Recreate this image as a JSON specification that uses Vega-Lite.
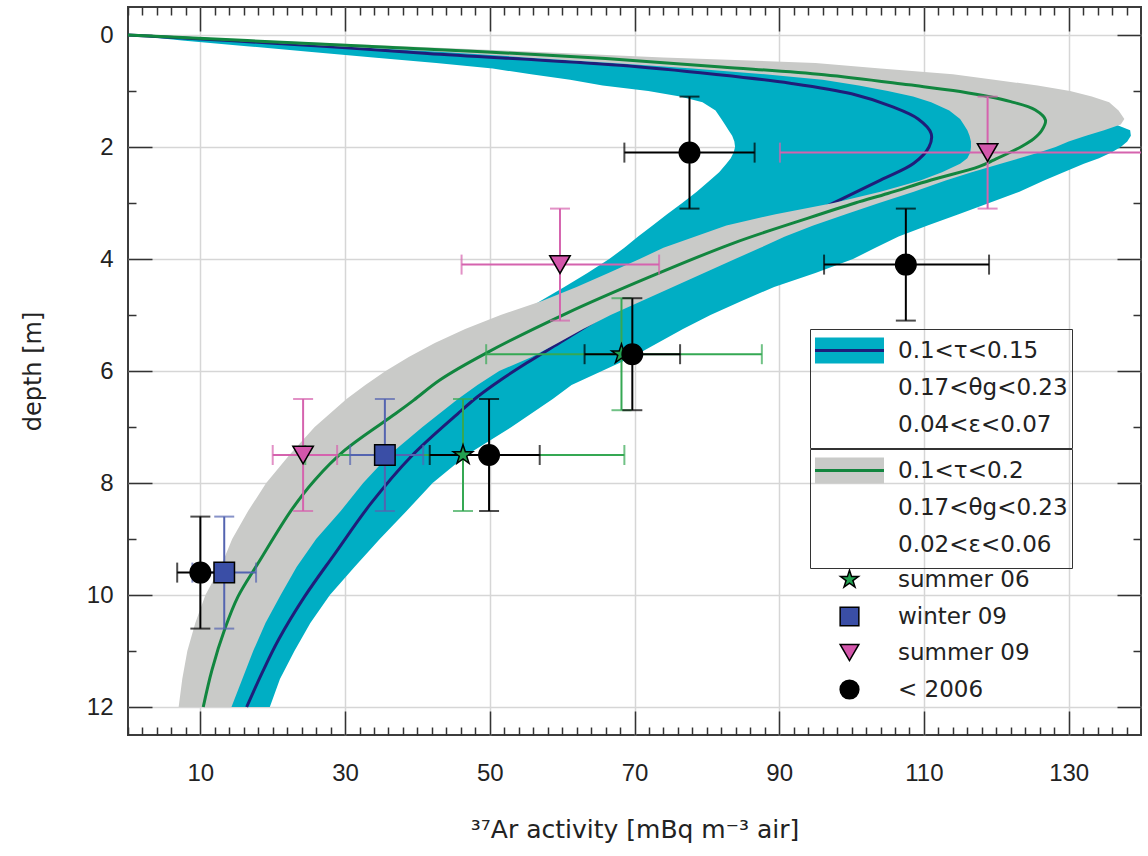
{
  "$schema": "https://vega.github.io/schema/vega-lite/v6.json",
  "width": 1013,
  "height": 728,
  "autosize": "none",
  "padding": {"left": 128, "top": 7, "right": 7, "bottom": 121},
  "config": {"view": {"stroke": "#3c3c3c", "strokeWidth": 2}, "font": "Liberation Sans"},
  "datasets": {
    "cyan": [
      {"d": 0, "lo": 0, "hi": 0, "band": "0.1<τ<0.15"},
      {"d": 0.1, "lo": 7.5, "hi": 17, "band": "0.1<τ<0.15"},
      {"d": 0.2, "lo": 16.4, "hi": 34, "band": "0.1<τ<0.15"},
      {"d": 0.3, "lo": 25, "hi": 49, "band": "0.1<τ<0.15"},
      {"d": 0.4, "lo": 33.9, "hi": 61, "band": "0.1<τ<0.15"},
      {"d": 0.5, "lo": 42.6, "hi": 72, "band": "0.1<τ<0.15"},
      {"d": 0.6, "lo": 50.4, "hi": 83, "band": "0.1<τ<0.15"},
      {"d": 0.7, "lo": 55.7, "hi": 94, "band": "0.1<τ<0.15"},
      {"d": 0.8, "lo": 61.1, "hi": 101, "band": "0.1<τ<0.15"},
      {"d": 0.9, "lo": 65.6, "hi": 106, "band": "0.1<τ<0.15"},
      {"d": 1.0, "lo": 71.9, "hi": 110, "band": "0.1<τ<0.15"},
      {"d": 1.1, "lo": 76.3, "hi": 113, "band": "0.1<τ<0.15"},
      {"d": 1.2, "lo": 79.4, "hi": 116, "band": "0.1<τ<0.15"},
      {"d": 1.35, "lo": 81.2, "hi": 122, "band": "0.1<τ<0.15"},
      {"d": 1.5, "lo": 82.0, "hi": 131, "band": "0.1<τ<0.15"},
      {"d": 1.6, "lo": 82.5, "hi": 136.5, "band": "0.1<τ<0.15"},
      {"d": 1.7, "lo": 83.0, "hi": 138.5, "band": "0.1<τ<0.15"},
      {"d": 1.8, "lo": 83.5, "hi": 138.6, "band": "0.1<τ<0.15"},
      {"d": 1.9, "lo": 83.8, "hi": 138.1, "band": "0.1<τ<0.15"},
      {"d": 2.0, "lo": 83.9, "hi": 137.2, "band": "0.1<τ<0.15"},
      {"d": 2.1, "lo": 83.7, "hi": 135.9, "band": "0.1<τ<0.15"},
      {"d": 2.2, "lo": 83.3, "hi": 134.2, "band": "0.1<τ<0.15"},
      {"d": 2.3, "lo": 82.7, "hi": 132.1, "band": "0.1<τ<0.15"},
      {"d": 2.45, "lo": 81.7, "hi": 129.3, "band": "0.1<τ<0.15"},
      {"d": 2.6, "lo": 80.4, "hi": 126.6, "band": "0.1<τ<0.15"},
      {"d": 2.8, "lo": 78.6, "hi": 123.2, "band": "0.1<τ<0.15"},
      {"d": 3.0, "lo": 76.6, "hi": 119, "band": "0.1<τ<0.15"},
      {"d": 3.2, "lo": 74.5, "hi": 114.8, "band": "0.1<τ<0.15"},
      {"d": 3.4, "lo": 72.5, "hi": 110.5, "band": "0.1<τ<0.15"},
      {"d": 3.6, "lo": 70.5, "hi": 106.5, "band": "0.1<τ<0.15"},
      {"d": 3.8, "lo": 68.6, "hi": 103.3, "band": "0.1<τ<0.15"},
      {"d": 4.0, "lo": 66.5, "hi": 100.2, "band": "0.1<τ<0.15"},
      {"d": 4.25, "lo": 63.5, "hi": 95, "band": "0.1<τ<0.15"},
      {"d": 4.5, "lo": 60.3, "hi": 89.3, "band": "0.1<τ<0.15"},
      {"d": 4.75, "lo": 57.0, "hi": 84.8, "band": "0.1<τ<0.15"},
      {"d": 5.0, "lo": 53.8, "hi": 80.5, "band": "0.1<τ<0.15"},
      {"d": 5.25, "lo": 50.4, "hi": 76.7, "band": "0.1<τ<0.15"},
      {"d": 5.5, "lo": 47.0, "hi": 73.2, "band": "0.1<τ<0.15"},
      {"d": 5.75, "lo": 45.1, "hi": 69.7, "band": "0.1<τ<0.15"},
      {"d": 6.0, "lo": 43.2, "hi": 65.5, "band": "0.1<τ<0.15"},
      {"d": 6.25, "lo": 41.2, "hi": 61.3, "band": "0.1<τ<0.15"},
      {"d": 6.5, "lo": 39.2, "hi": 58.7, "band": "0.1<τ<0.15"},
      {"d": 7.0, "lo": 35, "hi": 53, "band": "0.1<τ<0.15"},
      {"d": 7.5, "lo": 31.5, "hi": 46.8, "band": "0.1<τ<0.15"},
      {"d": 8.0, "lo": 28, "hi": 42.1, "band": "0.1<τ<0.15"},
      {"d": 8.5, "lo": 25, "hi": 38.5, "band": "0.1<τ<0.15"},
      {"d": 9.0, "lo": 22, "hi": 34.8, "band": "0.1<τ<0.15"},
      {"d": 9.5, "lo": 20, "hi": 31.3, "band": "0.1<τ<0.15"},
      {"d": 10.0, "lo": 18, "hi": 27.9, "band": "0.1<τ<0.15"},
      {"d": 10.5, "lo": 16.5, "hi": 25.2, "band": "0.1<τ<0.15"},
      {"d": 11.0, "lo": 15, "hi": 23.0, "band": "0.1<τ<0.15"},
      {"d": 11.5, "lo": 14, "hi": 21.0, "band": "0.1<τ<0.15"},
      {"d": 12.0, "lo": 13, "hi": 19.6, "band": "0.1<τ<0.15"}
    ],
    "gray": [
      {"d": 0, "lo": 0, "hi": 0, "band": "0.1<τ<0.2"},
      {"d": 0.1, "lo": 14, "hi": 19, "band": "0.1<τ<0.2"},
      {"d": 0.2, "lo": 29, "hi": 38, "band": "0.1<τ<0.2"},
      {"d": 0.3, "lo": 43, "hi": 56, "band": "0.1<τ<0.2"},
      {"d": 0.4, "lo": 55, "hi": 74, "band": "0.1<τ<0.2"},
      {"d": 0.5, "lo": 67, "hi": 95, "band": "0.1<τ<0.2"},
      {"d": 0.6, "lo": 78, "hi": 104, "band": "0.1<τ<0.2"},
      {"d": 0.7, "lo": 88, "hi": 114, "band": "0.1<τ<0.2"},
      {"d": 0.8, "lo": 96, "hi": 119.7, "band": "0.1<τ<0.2"},
      {"d": 0.9, "lo": 101, "hi": 125.7, "band": "0.1<τ<0.2"},
      {"d": 1.0, "lo": 105, "hi": 130.2, "band": "0.1<τ<0.2"},
      {"d": 1.1, "lo": 108.5, "hi": 133.2, "band": "0.1<τ<0.2"},
      {"d": 1.2, "lo": 111, "hi": 135.6, "band": "0.1<τ<0.2"},
      {"d": 1.35, "lo": 113.5, "hi": 136.9, "band": "0.1<τ<0.2"},
      {"d": 1.5, "lo": 115, "hi": 137.7, "band": "0.1<τ<0.2"},
      {"d": 1.6, "lo": 115.5, "hi": 137.2, "band": "0.1<τ<0.2"},
      {"d": 1.7, "lo": 116, "hi": 134.9, "band": "0.1<τ<0.2"},
      {"d": 1.8, "lo": 116.3, "hi": 132.4, "band": "0.1<τ<0.2"},
      {"d": 1.9, "lo": 116.5, "hi": 130.0, "band": "0.1<τ<0.2"},
      {"d": 2.0, "lo": 116.5, "hi": 128.2, "band": "0.1<τ<0.2"},
      {"d": 2.1, "lo": 116.4, "hi": 125.9, "band": "0.1<τ<0.2"},
      {"d": 2.2, "lo": 116, "hi": 123.2, "band": "0.1<τ<0.2"},
      {"d": 2.3, "lo": 115, "hi": 120.6, "band": "0.1<τ<0.2"},
      {"d": 2.45, "lo": 112.5, "hi": 116.6, "band": "0.1<τ<0.2"},
      {"d": 2.6, "lo": 109.5, "hi": 113, "band": "0.1<τ<0.2"},
      {"d": 2.8, "lo": 104, "hi": 108.6, "band": "0.1<τ<0.2"},
      {"d": 3.0, "lo": 97.5, "hi": 103.8, "band": "0.1<τ<0.2"},
      {"d": 3.2, "lo": 89.5, "hi": 99.2, "band": "0.1<τ<0.2"},
      {"d": 3.4, "lo": 82.7, "hi": 94.7, "band": "0.1<τ<0.2"},
      {"d": 3.6, "lo": 78.4, "hi": 90.8, "band": "0.1<τ<0.2"},
      {"d": 3.8, "lo": 74.0, "hi": 87.4, "band": "0.1<τ<0.2"},
      {"d": 4.0, "lo": 70.7, "hi": 83.9, "band": "0.1<τ<0.2"},
      {"d": 4.25, "lo": 66.4, "hi": 79.6, "band": "0.1<τ<0.2"},
      {"d": 4.5, "lo": 62, "hi": 75.3, "band": "0.1<τ<0.2"},
      {"d": 4.75, "lo": 57.2, "hi": 71.0, "band": "0.1<τ<0.2"},
      {"d": 5.0, "lo": 51.5, "hi": 66.7, "band": "0.1<τ<0.2"},
      {"d": 5.25, "lo": 46.6, "hi": 62.9, "band": "0.1<τ<0.2"},
      {"d": 5.5, "lo": 42.4, "hi": 59.4, "band": "0.1<τ<0.2"},
      {"d": 5.75, "lo": 38.8, "hi": 55.8, "band": "0.1<τ<0.2"},
      {"d": 6.0, "lo": 35.6, "hi": 51.3, "band": "0.1<τ<0.2"},
      {"d": 6.25, "lo": 32.8, "hi": 48.3, "band": "0.1<τ<0.2"},
      {"d": 6.5, "lo": 30.2, "hi": 45.6, "band": "0.1<τ<0.2"},
      {"d": 7.0, "lo": 25.8, "hi": 40.7, "band": "0.1<τ<0.2"},
      {"d": 7.5, "lo": 22.3, "hi": 36.1, "band": "0.1<τ<0.2"},
      {"d": 8.0, "lo": 19.1, "hi": 32.5, "band": "0.1<τ<0.2"},
      {"d": 8.5, "lo": 16.6, "hi": 29.4, "band": "0.1<τ<0.2"},
      {"d": 9.0, "lo": 14.4, "hi": 26.0, "band": "0.1<τ<0.2"},
      {"d": 9.5, "lo": 12.8, "hi": 23.3, "band": "0.1<τ<0.2"},
      {"d": 10.0, "lo": 10.7, "hi": 21.1, "band": "0.1<τ<0.2"},
      {"d": 10.5, "lo": 9.3, "hi": 19.0, "band": "0.1<τ<0.2"},
      {"d": 11.0, "lo": 8.2, "hi": 17.3, "band": "0.1<τ<0.2"},
      {"d": 11.5, "lo": 7.5, "hi": 15.8, "band": "0.1<τ<0.2"},
      {"d": 12.0, "lo": 7.0, "hi": 14.3, "band": "0.1<τ<0.2"}
    ],
    "navy": [
      {"d": 0, "x": 0, "band": "0.1<τ<0.15"},
      {"d": 0.1, "x": 14, "band": "0.1<τ<0.15"},
      {"d": 0.2, "x": 27, "band": "0.1<τ<0.15"},
      {"d": 0.33, "x": 41.4, "band": "0.1<τ<0.15"},
      {"d": 0.54, "x": 68, "band": "0.1<τ<0.15"},
      {"d": 0.7, "x": 81, "band": "0.1<τ<0.15"},
      {"d": 0.86, "x": 91.5, "band": "0.1<τ<0.15"},
      {"d": 1.05, "x": 100, "band": "0.1<τ<0.15"},
      {"d": 1.28, "x": 105.6, "band": "0.1<τ<0.15"},
      {"d": 1.5, "x": 109.2, "band": "0.1<τ<0.15"},
      {"d": 1.76, "x": 111, "band": "0.1<τ<0.15"},
      {"d": 2.0, "x": 110.7, "band": "0.1<τ<0.15"},
      {"d": 2.29, "x": 108.6, "band": "0.1<τ<0.15"},
      {"d": 2.59, "x": 104, "band": "0.1<τ<0.15"},
      {"d": 3.12, "x": 95.6, "band": "0.1<τ<0.15"},
      {"d": 3.6, "x": 88, "band": "0.1<τ<0.15"},
      {"d": 4.1, "x": 80, "band": "0.1<τ<0.15"},
      {"d": 4.5, "x": 73.5, "band": "0.1<τ<0.15"},
      {"d": 4.85, "x": 68, "band": "0.1<τ<0.15"},
      {"d": 5.1, "x": 64.6, "band": "0.1<τ<0.15"},
      {"d": 5.5, "x": 59.6, "band": "0.1<τ<0.15"},
      {"d": 5.85, "x": 55.2, "band": "0.1<τ<0.15"},
      {"d": 6.16, "x": 51.5, "band": "0.1<τ<0.15"},
      {"d": 6.46, "x": 48.3, "band": "0.1<τ<0.15"},
      {"d": 6.76, "x": 45.6, "band": "0.1<τ<0.15"},
      {"d": 7.53, "x": 39.1, "band": "0.1<τ<0.15"},
      {"d": 8.36, "x": 33.6, "band": "0.1<τ<0.15"},
      {"d": 9.26, "x": 28.6, "band": "0.1<τ<0.15"},
      {"d": 10.03, "x": 24.4, "band": "0.1<τ<0.15"},
      {"d": 10.8, "x": 20.8, "band": "0.1<τ<0.15"},
      {"d": 11.4, "x": 18.5, "band": "0.1<τ<0.15"},
      {"d": 12.0, "x": 16.4, "band": "0.1<τ<0.15"}
    ],
    "green": [
      {"d": 0, "x": 0, "band": "0.1<τ<0.2"},
      {"d": 0.1, "x": 16.5, "band": "0.1<τ<0.2"},
      {"d": 0.2, "x": 33, "band": "0.1<τ<0.2"},
      {"d": 0.3, "x": 49, "band": "0.1<τ<0.2"},
      {"d": 0.42, "x": 66, "band": "0.1<τ<0.2"},
      {"d": 0.57, "x": 82, "band": "0.1<τ<0.2"},
      {"d": 0.71, "x": 96.2, "band": "0.1<τ<0.2"},
      {"d": 0.89, "x": 107.9, "band": "0.1<τ<0.2"},
      {"d": 1.01, "x": 115, "band": "0.1<τ<0.2"},
      {"d": 1.19, "x": 122, "band": "0.1<τ<0.2"},
      {"d": 1.34, "x": 125.4, "band": "0.1<τ<0.2"},
      {"d": 1.52, "x": 126.8, "band": "0.1<τ<0.2"},
      {"d": 1.7, "x": 126.3, "band": "0.1<τ<0.2"},
      {"d": 1.85, "x": 125.2, "band": "0.1<τ<0.2"},
      {"d": 1.99, "x": 123.5, "band": "0.1<τ<0.2"},
      {"d": 2.23, "x": 119.7, "band": "0.1<τ<0.2"},
      {"d": 2.35, "x": 117.6, "band": "0.1<τ<0.2"},
      {"d": 2.59, "x": 111, "band": "0.1<τ<0.2"},
      {"d": 2.83, "x": 105, "band": "0.1<τ<0.2"},
      {"d": 3.0, "x": 100.5, "band": "0.1<τ<0.2"},
      {"d": 3.27, "x": 94, "band": "0.1<τ<0.2"},
      {"d": 3.72, "x": 83.6, "band": "0.1<τ<0.2"},
      {"d": 4.32, "x": 72.1, "band": "0.1<τ<0.2"},
      {"d": 4.97, "x": 60.6, "band": "0.1<τ<0.2"},
      {"d": 5.68, "x": 49.5, "band": "0.1<τ<0.2"},
      {"d": 6.16, "x": 43.1, "band": "0.1<τ<0.2"},
      {"d": 6.52, "x": 39.5, "band": "0.1<τ<0.2"},
      {"d": 6.76, "x": 37.0, "band": "0.1<τ<0.2"},
      {"d": 7.41, "x": 30, "band": "0.1<τ<0.2"},
      {"d": 7.95, "x": 25.8, "band": "0.1<τ<0.2"},
      {"d": 8.48, "x": 22.6, "band": "0.1<τ<0.2"},
      {"d": 9.43, "x": 18, "band": "0.1<τ<0.2"},
      {"d": 10.03, "x": 15.2, "band": "0.1<τ<0.2"},
      {"d": 10.6, "x": 13.4, "band": "0.1<τ<0.2"},
      {"d": 11.34, "x": 11.6, "band": "0.1<τ<0.2"},
      {"d": 12.0, "x": 10.4, "band": "0.1<τ<0.2"}
    ],
    "obs": [
      {"series": "summer 06", "x": 68.2, "d": 5.7, "xlo": 49.5, "xhi": 87.6, "dlo": 4.7, "dhi": 6.7},
      {"series": "summer 06", "x": 46.3, "d": 7.5, "xlo": 24.5, "xhi": 68.6, "dlo": 6.5, "dhi": 8.5},
      {"series": "winter 09", "x": 35.5, "d": 7.5, "xlo": 30.7, "xhi": 40.8, "dlo": 6.5, "dhi": 8.5},
      {"series": "winter 09", "x": 13.3, "d": 9.6, "xlo": 8.9, "xhi": 17.7, "dlo": 8.6, "dhi": 10.6},
      {"series": "summer 09", "x": 118.8, "d": 2.1, "xlo": 90.1, "xhi": 150, "dlo": 1.1, "dhi": 3.1},
      {"series": "summer 09", "x": 59.7, "d": 4.1, "xlo": 46.1, "xhi": 73.4, "dlo": 3.1, "dhi": 5.1},
      {"series": "summer 09", "x": 24.2, "d": 7.5, "xlo": 20.0, "xhi": 28.9, "dlo": 6.5, "dhi": 8.5},
      {"series": "< 2006", "x": 77.6, "d": 2.1, "xlo": 68.6, "xhi": 86.6, "dlo": 1.1, "dhi": 3.1},
      {"series": "< 2006", "x": 107.5, "d": 4.1, "xlo": 96.2, "xhi": 119.0, "dlo": 3.1, "dhi": 5.1},
      {"series": "< 2006", "x": 69.7, "d": 5.7, "xlo": 63.1, "xhi": 76.3, "dlo": 4.7, "dhi": 6.7},
      {"series": "< 2006", "x": 49.9, "d": 7.5, "xlo": 41.7, "xhi": 56.9, "dlo": 6.5, "dhi": 8.5},
      {"series": "< 2006", "x": 10.0, "d": 9.6, "xlo": 6.8, "xhi": 13.0, "dlo": 8.6, "dhi": 10.6}
    ]
  },
  "layer": [
    {
      "data": {"name": "cyan"},
      "mark": {"type": "area", "orient": "horizontal"},
      "encoding": {
        "y": {"field": "d", "type": "quantitative", "scale": {"domain": [-0.5, 12.5], "reverse": true, "nice": false, "zero": false},
          "axis": {"orient": "left", "values": [0, 2, 4, 6, 8, 10, 12], "grid": true, "gridColor": "#d6d6d6", "gridWidth": 1.5, "ticks": false, "domain": false, "labelFontSize": 24, "labelColor": "#222", "labelPadding": 15, "title": "depth [m]", "titleFont": "DejaVu Sans", "titleFontSize": 24, "titleFontWeight": "normal", "titleColor": "#222", "titlePadding": 41}},
        "x": {"field": "lo", "type": "quantitative", "scale": {"domain": [0, 140], "nice": false, "zero": false},
          "axis": {"orient": "bottom", "values": [10, 30, 50, 70, 90, 110, 130], "grid": true, "gridColor": "#d6d6d6", "gridWidth": 1.5, "ticks": false, "domain": false, "labelFontSize": 24, "labelColor": "#222", "labelPadding": 26, "title": "³⁷Ar activity [mBq m⁻³ air]", "titleFont": "DejaVu Sans", "titleFontSize": 25, "titleFontWeight": "normal", "titleColor": "#222", "titlePadding": 32}},
        "x2": {"field": "hi"},
        "fill": {"field": "band", "type": "nominal",
          "scale": {"domain": ["0.1<τ<0.15", "0.17<θg<0.23", "0.04<ε<0.07"], "range": ["#00aec4", "transparent", "transparent"]},
          "legend": {"orient": "none", "legendX": 682, "legendY": 322, "title": null, "symbolType": "M-2.156,-0.8125H2.156V0.8125H-2.156Z", "symbolSize": 1024, "symbolStrokeWidth": 3, "symbolStrokeColor": "transparent", "symbolOffset": 18, "labelOffset": 31, "labelFont": "DejaVu Sans", "labelFontSize": 23, "labelColor": "#222", "labelLimit": 400, "rowPadding": -3, "padding": 4, "strokeColor": "#333"}}
      }
    },
    {
      "data": {"name": "navy"},
      "mark": {"type": "line", "strokeWidth": 3, "interpolate": "catmull-rom"},
      "encoding": {
        "y": {"field": "d", "type": "quantitative", "scale": {"domain": [-0.5, 12.5], "reverse": true, "nice": false, "zero": false},
          "axis": {"orient": "left", "values": [0, 1, 2, 3, 4, 5, 6, 7, 8, 9, 10, 11, 12], "labels": false, "grid": false, "domain": false, "ticks": true, "tickColor": "#333", "tickWidth": 1.5, "tickSize": {"condition": {"test": "datum.value % 2 == 0", "value": -24}, "value": -8}, "title": null}},
        "x": {"field": "x", "type": "quantitative", "scale": {"domain": [0, 140], "nice": false, "zero": false},
          "axis": {"orient": "bottom", "values": [0, 2, 4, 6, 8, 10, 12, 14, 16, 18, 20, 22, 24, 26, 28, 30, 32, 34, 36, 38, 40, 42, 44, 46, 48, 50, 52, 54, 56, 58, 60, 62, 64, 66, 68, 70, 72, 74, 76, 78, 80, 82, 84, 86, 88, 90, 92, 94, 96, 98, 100, 102, 104, 106, 108, 110, 112, 114, 116, 118, 120, 122, 124, 126, 128, 130, 132, 134, 136, 138], "labels": false, "grid": false, "domain": false, "ticks": true, "tickColor": "#333", "tickWidth": 1.5, "tickSize": {"condition": {"test": "datum.value % 20 == 10", "value": -24}, "value": -8}, "title": null}},
        "order": {"field": "d", "type": "quantitative"},
        "stroke": {"field": "band", "type": "nominal",
          "scale": {"domain": ["0.1<τ<0.15", "0.17<θg<0.23", "0.04<ε<0.07"], "range": ["#1f1d7a", "transparent", "transparent"]},
          "legend": {"orient": "none", "legendX": 682, "legendY": 322, "title": null, "symbolType": "M-2.156,0H2.156", "symbolSize": 1024, "symbolStrokeWidth": 3, "symbolOffset": 18, "labelOffset": 31, "labelExpr": "''", "labelFont": "DejaVu Sans", "labelFontSize": 23, "labelLimit": 400, "rowPadding": -3, "padding": 4}}
      }
    },
    {
      "data": {"name": "gray"},
      "mark": {"type": "area", "orient": "horizontal"},
      "encoding": {
        "y": {"field": "d", "type": "quantitative", "scale": {"domain": [-0.5, 12.5], "reverse": true, "nice": false, "zero": false},
          "axis": {"orient": "right", "values": [0, 1, 2, 3, 4, 5, 6, 7, 8, 9, 10, 11, 12], "labels": false, "grid": false, "domain": false, "ticks": true, "tickColor": "#333", "tickWidth": 1.5, "tickSize": {"condition": {"test": "datum.value % 2 == 0", "value": -24}, "value": -8}, "title": null}},
        "x": {"field": "lo", "type": "quantitative", "scale": {"domain": [0, 140], "nice": false, "zero": false},
          "axis": {"orient": "top", "values": [0, 2, 4, 6, 8, 10, 12, 14, 16, 18, 20, 22, 24, 26, 28, 30, 32, 34, 36, 38, 40, 42, 44, 46, 48, 50, 52, 54, 56, 58, 60, 62, 64, 66, 68, 70, 72, 74, 76, 78, 80, 82, 84, 86, 88, 90, 92, 94, 96, 98, 100, 102, 104, 106, 108, 110, 112, 114, 116, 118, 120, 122, 124, 126, 128, 130, 132, 134, 136, 138], "labels": false, "grid": false, "domain": false, "ticks": true, "tickColor": "#333", "tickWidth": 1.5, "tickSize": {"condition": {"test": "datum.value % 20 == 10", "value": -24}, "value": -8}, "title": null}},
        "x2": {"field": "hi"},
        "fill": {"field": "band", "type": "nominal",
          "scale": {"domain": ["0.1<τ<0.2", "0.17<θg<0.23", "0.02<ε<0.06"], "range": ["#c9cac8", "transparent", "transparent"]},
          "legend": {"orient": "none", "legendX": 682, "legendY": 442, "title": null, "symbolType": "M-2.156,-0.8125H2.156V0.8125H-2.156Z", "symbolSize": 1024, "symbolStrokeWidth": 3, "symbolStrokeColor": "transparent", "symbolOffset": 18, "labelOffset": 31, "labelFont": "DejaVu Sans", "labelFontSize": 23, "labelColor": "#222", "labelLimit": 400, "rowPadding": -3, "padding": 4, "strokeColor": "#333"}}
      }
    },
    {
      "data": {"name": "green"},
      "mark": {"type": "line", "strokeWidth": 3, "interpolate": "catmull-rom"},
      "encoding": {
        "y": {"field": "d", "type": "quantitative", "scale": {"domain": [-0.5, 12.5], "reverse": true, "nice": false, "zero": false}, "axis": null},
        "x": {"field": "x", "type": "quantitative", "scale": {"domain": [0, 140], "nice": false, "zero": false}, "axis": null},
        "order": {"field": "d", "type": "quantitative"},
        "stroke": {"field": "band", "type": "nominal",
          "scale": {"domain": ["0.1<τ<0.2", "0.17<θg<0.23", "0.02<ε<0.06"], "range": ["#11863f", "transparent", "transparent"]},
          "legend": {"orient": "none", "legendX": 682, "legendY": 442, "title": null, "symbolType": "M-2.156,0H2.156", "symbolSize": 1024, "symbolStrokeWidth": 3, "symbolOffset": 18, "labelOffset": 31, "labelExpr": "''", "labelFont": "DejaVu Sans", "labelFontSize": 23, "labelLimit": 400, "rowPadding": -3, "padding": 4}}
      }
    },
    {
      "data": {"name": "obs"},
      "mark": {"type": "rule", "strokeWidth": 2, "clip": true},
      "encoding": {
        "y": {"field": "d", "type": "quantitative", "scale": {"domain": [-0.5, 12.5], "reverse": true, "nice": false, "zero": false}, "axis": null},
        "x": {"field": "xlo", "type": "quantitative", "scale": {"domain": [0, 140], "nice": false, "zero": false}, "axis": null},
        "x2": {"field": "xhi"},
        "stroke": {"field": "series", "type": "nominal", "scale": {"domain": ["summer 06", "winter 09", "summer 09", "< 2006"], "range": ["#35a853", "#5464b0", "#d563ae", "#000000"]}, "legend": null}
      }
    },
    {
      "data": {"name": "obs"},
      "mark": {"type": "rule", "strokeWidth": 2, "clip": true},
      "encoding": {
        "y": {"field": "dlo", "type": "quantitative", "scale": {"domain": [-0.5, 12.5], "reverse": true, "nice": false, "zero": false}, "axis": null},
        "y2": {"field": "dhi"},
        "x": {"field": "x", "type": "quantitative", "scale": {"domain": [0, 140], "nice": false, "zero": false}, "axis": null},
        "stroke": {"field": "series", "type": "nominal", "scale": {"domain": ["summer 06", "winter 09", "summer 09", "< 2006"], "range": ["#35a853", "#5464b0", "#d563ae", "#000000"]}, "legend": null}
      }
    },
    {
      "data": {"name": "obs"},
      "mark": {"type": "tick", "orient": "horizontal", "size": 20, "thickness": 2, "clip": true},
      "encoding": {
        "y": {"field": "dlo", "type": "quantitative", "scale": {"domain": [-0.5, 12.5], "reverse": true, "nice": false, "zero": false}, "axis": null},
        "x": {"field": "x", "type": "quantitative", "scale": {"domain": [0, 140], "nice": false, "zero": false}, "axis": null},
        "fill": {"field": "series", "type": "nominal", "scale": {"domain": ["summer 06", "winter 09", "summer 09", "< 2006"], "range": ["#35a853", "#5464b0", "#d563ae", "#000000"]}, "legend": null}
      }
    },
    {
      "data": {"name": "obs"},
      "mark": {"type": "tick", "orient": "horizontal", "size": 20, "thickness": 2, "clip": true},
      "encoding": {
        "y": {"field": "dhi", "type": "quantitative", "scale": {"domain": [-0.5, 12.5], "reverse": true, "nice": false, "zero": false}, "axis": null},
        "x": {"field": "x", "type": "quantitative", "scale": {"domain": [0, 140], "nice": false, "zero": false}, "axis": null},
        "fill": {"field": "series", "type": "nominal", "scale": {"domain": ["summer 06", "winter 09", "summer 09", "< 2006"], "range": ["#35a853", "#5464b0", "#d563ae", "#000000"]}, "legend": null}
      }
    },
    {
      "data": {"name": "obs"},
      "mark": {"type": "tick", "orient": "vertical", "size": 20, "thickness": 2, "clip": true},
      "encoding": {
        "y": {"field": "d", "type": "quantitative", "scale": {"domain": [-0.5, 12.5], "reverse": true, "nice": false, "zero": false}, "axis": null},
        "x": {"field": "xlo", "type": "quantitative", "scale": {"domain": [0, 140], "nice": false, "zero": false}, "axis": null},
        "fill": {"field": "series", "type": "nominal", "scale": {"domain": ["summer 06", "winter 09", "summer 09", "< 2006"], "range": ["#35a853", "#5464b0", "#d563ae", "#000000"]}, "legend": null}
      }
    },
    {
      "data": {"name": "obs"},
      "mark": {"type": "tick", "orient": "vertical", "size": 20, "thickness": 2, "clip": true},
      "encoding": {
        "y": {"field": "d", "type": "quantitative", "scale": {"domain": [-0.5, 12.5], "reverse": true, "nice": false, "zero": false}, "axis": null},
        "x": {"field": "xhi", "type": "quantitative", "scale": {"domain": [0, 140], "nice": false, "zero": false}, "axis": null},
        "fill": {"field": "series", "type": "nominal", "scale": {"domain": ["summer 06", "winter 09", "summer 09", "< 2006"], "range": ["#35a853", "#5464b0", "#d563ae", "#000000"]}, "legend": null}
      }
    },
    {
      "data": {"name": "obs"},
      "mark": {"type": "point", "filled": true, "size": 420, "stroke": "#000", "strokeWidth": 1.5, "opacity": 1},
      "encoding": {
        "y": {"field": "d", "type": "quantitative", "scale": {"domain": [-0.5, 12.5], "reverse": true, "nice": false, "zero": false}, "axis": null},
        "x": {"field": "x", "type": "quantitative", "scale": {"domain": [0, 140], "nice": false, "zero": false}, "axis": null},
        "color": {"field": "series", "type": "nominal", "scale": {"domain": ["summer 06", "winter 09", "summer 09", "< 2006"], "range": ["#22a050", "#3a4ea6", "#d356ab", "#000000"]},
          "legend": {"orient": "none", "legendX": 702, "legendY": 561, "title": null, "symbolSize": 350, "symbolStrokeWidth": 1.5, "symbolOffset": 8, "labelOffset": 37, "labelFont": "DejaVu Sans", "labelFontSize": 23, "labelColor": "#222", "rowPadding": 12, "padding": 0, "encode": {"symbols": {"update": {"stroke": {"value": "#000"}, "strokeWidth": {"value": 1.5}}}}}},
        "shape": {"field": "series", "type": "nominal", "scale": {"domain": ["summer 06", "winter 09", "summer 09", "< 2006"], "range": ["M0,-1L0.2245,-0.309L0.951,-0.309L0.363,0.118L0.588,0.809L0,0.382L-0.588,0.809L-0.363,0.118L-0.951,-0.309L-0.2245,-0.309Z", "square", "triangle-down", "circle"]},
          "legend": {"orient": "none", "legendX": 702, "legendY": 561, "title": null, "symbolSize": 350, "symbolStrokeWidth": 1.5, "symbolOffset": 8, "labelOffset": 37, "labelFont": "DejaVu Sans", "labelFontSize": 23, "labelColor": "#222", "rowPadding": 12, "padding": 0, "encode": {"symbols": {"update": {"stroke": {"value": "#000"}, "strokeWidth": {"value": 1.5}}}}}}
      }
    }
  ],
  "resolve": {
    "scale": {"fill": "independent", "stroke": "independent"},
    "axis": {"x": "independent", "y": "independent"}
  }
}
